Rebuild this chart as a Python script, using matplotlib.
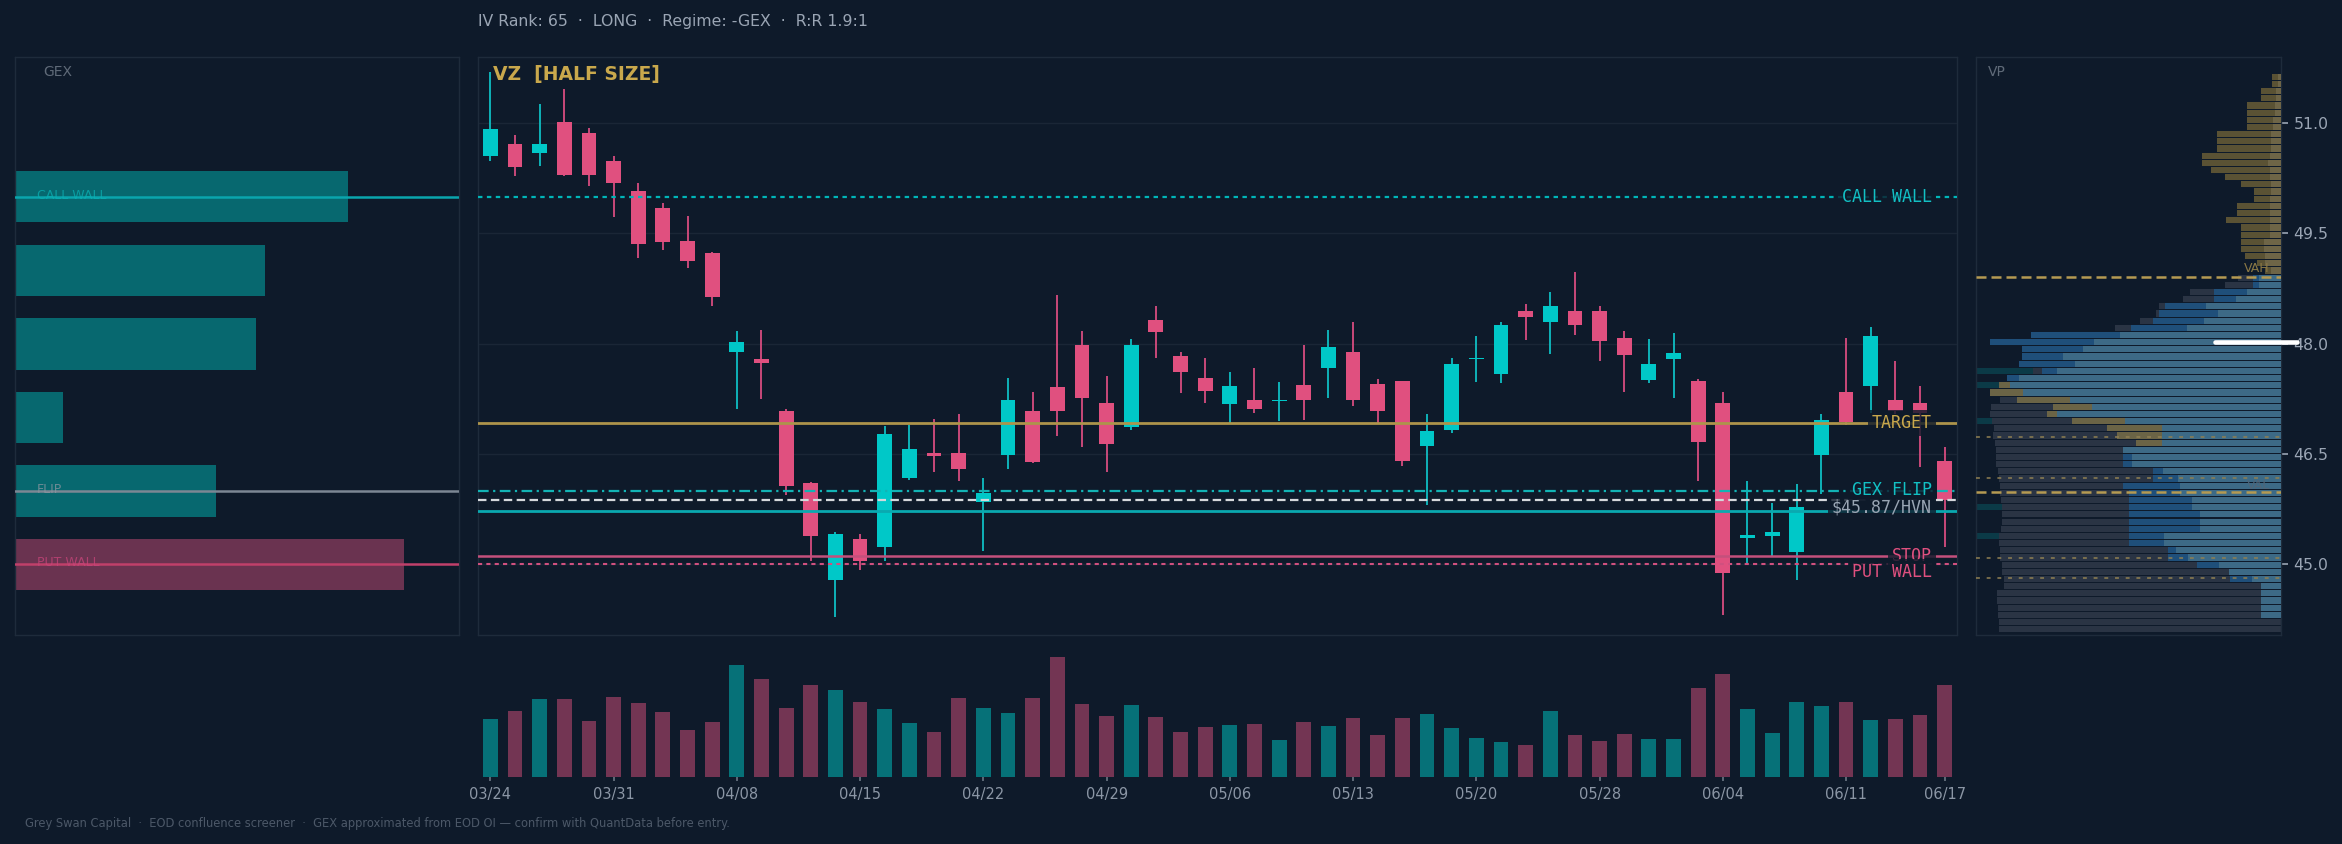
import numpy as np
import pandas as pd
import matplotlib
matplotlib.use('Agg')
import matplotlib.pyplot as plt
import matplotlib.transforms as mtransforms

BG = '#0e1a2a'
GRID = '#1a2636'
SPINE = '#1e2b3b'
CYAN = '#00c8c8'
PINK = '#e0507f'
GOLD = '#c9a84c'
MUTED = '#9aa5b4'

# ---- VZ daily bars (60 sessions) ----
dates = pd.bdate_range('2025-03-24', '2025-06-17').drop(pd.to_datetime(['2025-04-04', '2025-05-26']))
opens = [50.56, 50.72, 50.60, 51.01, 50.86, 50.49, 50.08, 49.84, 49.40, 49.24,
         47.89, 47.80, 47.08, 46.11, 44.79, 45.34, 45.24, 46.18, 46.51, 46.52,
         45.85, 46.49, 47.08, 47.41, 47.99, 47.19, 46.87, 48.33, 47.84, 47.54,
         47.18, 47.23, 47.22, 47.44, 47.67, 47.89, 47.46, 47.49, 46.61, 46.83,
         47.79, 47.59, 48.44, 48.29, 48.44, 48.45, 48.08, 47.51, 47.79, 47.50,
         47.19, 45.36, 45.39, 45.17, 46.49, 47.35, 47.43, 47.24, 47.19, 46.40]
highs = [51.69, 50.84, 51.26, 51.46, 50.94, 50.55, 50.18, 49.92, 49.74, 49.25,
         48.18, 48.19, 47.11, 46.12, 45.44, 45.41, 46.88, 46.90, 46.98, 47.04,
         46.17, 47.54, 47.35, 48.67, 48.18, 47.56, 48.07, 48.51, 47.89, 47.81,
         47.62, 47.67, 47.48, 47.98, 48.19, 48.29, 47.52, 47.50, 47.04, 47.81,
         48.11, 48.29, 48.54, 48.71, 48.97, 48.51, 48.18, 48.06, 48.15, 47.52,
         47.34, 46.13, 45.84, 46.10, 47.04, 48.08, 48.23, 47.76, 47.42, 46.59]
lows = [50.48, 50.28, 50.42, 50.28, 50.15, 49.73, 49.16, 49.27, 49.03, 48.52,
        47.11, 47.25, 45.94, 45.04, 44.28, 44.93, 45.04, 46.15, 46.26, 46.14,
        45.18, 46.30, 46.38, 46.74, 46.60, 46.26, 46.83, 47.81, 47.33, 47.19,
        46.92, 47.06, 46.95, 46.96, 47.26, 47.16, 46.92, 46.34, 45.81, 46.79,
        47.48, 47.47, 48.05, 47.86, 48.12, 47.77, 47.35, 47.47, 47.26, 46.14,
        44.31, 45.02, 45.10, 44.79, 45.96, 46.90, 47.06, 47.05, 46.32, 45.23]
closes = [50.92, 50.40, 50.72, 50.30, 50.30, 50.19, 49.36, 49.38, 49.12, 48.63,
          48.03, 47.74, 46.07, 45.39, 45.42, 45.05, 46.78, 46.57, 46.47, 46.30,
          45.97, 47.24, 46.39, 47.08, 47.26, 46.64, 47.99, 48.16, 47.62, 47.36,
          47.42, 47.11, 47.23, 47.23, 47.95, 47.23, 47.08, 46.41, 46.82, 47.73,
          47.81, 48.25, 48.37, 48.51, 48.26, 48.04, 47.85, 47.73, 47.88, 46.66,
          44.88, 45.40, 45.44, 45.78, 46.96, 46.93, 48.10, 47.08, 47.06, 45.87]
volume_m = [17.3, 19.7, 23.3, 23.3, 16.7, 23.9, 22.1, 19.4, 14.0, 16.4,
            33.5, 29.3, 20.6, 27.5, 26.0, 22.4, 20.3, 16.1, 13.4, 23.6,
            20.6, 19.1, 23.6, 35.9, 21.8, 18.2, 21.5, 17.9, 13.4, 14.9,
            15.5, 15.8, 11.0, 16.4, 15.2, 17.6, 12.5, 17.6, 18.8, 14.6,
            11.6, 10.4, 9.5, 19.7, 12.5, 10.7, 12.8, 11.3, 11.3, 26.6,
            30.8, 20.3, 13.1, 22.4, 21.2, 22.4, 17.0, 17.3, 18.5, 27.5]

# ---- key levels ----
call_wall = 50.0
target = 46.92
gex_flip = 46.0
hvn = 45.87
entry = 45.73
stop = 45.11
put_wall = 45.0

# ---- GEX by strike ($M, abs) ----
gex_strikes = [50.0, 49.0, 48.0, 47.0, 46.0, 45.0]
gex_values = [8.56, 6.43, 6.20, 1.23, 5.17, -10.0]

# ---- volume profile (78 bins, top -> bottom) ----
vp_top, vp_bottom = 51.68, 44.07
vp_upper_outer = [2.8, 2.8, 6.1, 6.1, 10.3, 10.3, 10.3, 10.3, 19.3, 19.3, 19.3, 23.8, 23.8, 21.1,
                  16.9, 12.1, 8.2, 8.2, 13.3, 13.3, 16.6, 12.1, 12.1, 12.1, 12.1, 10.9, 7.3, 4.9]
vp_upper_inner = [1.0, 1.0, 1.4, 1.4, 1.9, 1.9, 2.4, 2.4, 3.1, 3.1, 3.1, 3.4, 4.0, 3.4,
                  3.4, 3.1, 3.1, 3.4, 3.4, 3.4, 3.4, 3.4, 3.4, 5.2, 5.2, 4.9, 4.9, 3.0]
vp_lower_slate = [13.0, 16.9, 27.4, 29.5, 36.7, 37.6, 42.4, 49.9, 75.1, 87.4, 77.8, 77.8, 78.7, 74.5,
                  82.3, 84.7, 87.4, 84.4, 87.1, 87.4, 86.8, 86.2, 86.5, 85.9, 85.6, 85.6, 85.6, 85.0,
                  84.7, 84.4, 84.4, 84.1, 83.8, 83.8, 83.8, 84.1, 84.7, 84.7, 84.4, 84.4, 83.8, 83.8,
                  83.2, 83.2, 85.3, 85.3, 85.0, 85.0, 84.7, 84.7]
vp_lower_mid = [8.5, 8.5, 20.2, 20.2, 34.9, 36.7, 38.5, 45.1, 75.1, 87.4, 77.8, 77.8, 78.7, 71.8,
                82.3, 84.7, 87.4, 79.3, 68.5, 70.3, 62.8, 52.3, 49.3, 43.6, 47.5, 47.5, 47.5, 38.5,
                38.5, 47.5, 45.7, 45.7, 45.7, 45.7, 45.7, 45.7, 45.7, 45.7, 34.0, 34.0, 25.3, 15.7,
                15.4, 6.1, 0, 0, 0, 0, 0, 0]
vp_lower_steel = [6.7, 6.7, 10.3, 13.6, 22.6, 19.0, 23.2, 28.3, 48.4, 56.2, 59.5, 65.5, 61.9, 67.3,
                  78.7, 81.4, 77.5, 63.4, 56.8, 67.3, 46.9, 35.8, 35.8, 35.8, 47.3, 44.8, 44.8, 35.5,
                  31.0, 30.4, 30.4, 26.8, 26.8, 24.4, 24.4, 24.4, 35.2, 35.2, 31.6, 28.0, 18.7, 15.7,
                  8.8, 6.1, 6.1, 6.1, 6.1, 6.1, 0, 0]
vp_lower_kind = "bbbbbbbbbbbbbbbgggggggggbbbbbbbbbbbbbbbbbbbbbbbbbb"
vp_lower_teal = [13, 15, 20, 32, 36]
vah, val = 48.91, 45.98
vp_minor = [46.73, 46.17, 45.09, 44.81]
poc = 48.02

header = "IV Rank: 65  \u00b7  LONG  \u00b7  Regime: -GEX  \u00b7  R:R 1.9:1"
footer = ("Grey Swan Capital  \u00b7  EOD confluence screener  \u00b7  "
          "GEX approximated from EOD OI \u2014 confirm with QuantData before entry.")

# ---------------------------------------------------------------
W, H = 2342, 844
fig = plt.figure(figsize=(W / 100, H / 100), dpi=100, facecolor=BG)


def px_axes(x0, y0, x1, y1):
    return fig.add_axes([x0 / W, (H - y1) / H, (x1 - x0) / W, (y1 - y0) / H])


ax_gex = px_axes(15, 57, 459, 635)
ax = px_axes(478, 57, 1957, 635)
ax_vp = px_axes(1976, 57, 2281, 635)
ax_vol = px_axes(478, 645, 1957, 777)

ylim = (44.04, 51.90)
yticks = [45.0, 46.5, 48.0, 49.5, 51.0]
for a in (ax_gex, ax, ax_vp, ax_vol):
    a.set_facecolor(BG)
    for s in a.spines.values():
        s.set_color(SPINE)
        s.set_linewidth(1.0)

n = len(opens)
x = np.arange(n)
o, h, l, c = map(np.array, (opens, highs, lows, closes))
up = c >= o

# ---- main candles ----
ax.set_xlim(-0.5, n - 0.5)
ax.set_ylim(*ylim)
ax.set_yticks(yticks)
ax.tick_params(left=False, labelleft=False, bottom=False, labelbottom=False)
ax.set_xticks([])
for yv in yticks:
    ax.axhline(yv, color=GRID, lw=1.0, zorder=0)

wick_col = np.where(up, '#0fb3b8', '#c9497a')
body_col = np.where(up, CYAN, PINK)
ax.vlines(x, l, h, colors=wick_col, lw=1.4, zorder=2)
ax.bar(x, np.maximum(np.abs(c - o), 0.012), bottom=np.minimum(o, c), width=0.6,
       color=body_col, zorder=3, linewidth=0)

# ---- levels ----
ax.axhline(call_wall, color='#00b5b8', lw=1.6, ls=(0, (2, 2)), zorder=4)
ax.axhline(target, color='#ad944b', lw=2.0, zorder=4)
ax.axhline(gex_flip, color='#12b3b5', lw=1.6, ls=(0, (4.8, 2, 1, 2)), zorder=4)
ax.axhline(hvn, color='#d5d8dc', lw=1.6, ls=(0, (3.8, 2)), zorder=4)
ax.axhline(entry, color='#0aa9b0', lw=2.0, zorder=4)
ax.axhline(stop, color='#c4507c', lw=1.8, zorder=4)
ax.axhline(put_wall, color='#d0507f', lw=1.5, ls=(0, (2, 2)), zorder=4)

blend = mtransforms.blended_transform_factory(ax.transAxes, ax.transData)
box = dict(boxstyle='square,pad=0.25', facecolor=BG, edgecolor='none', alpha=0.8)
labels = [('CALL WALL', call_wall, '#12c0c4'),
          ('TARGET', target, '#c9a84c'),
          ('GEX FLIP', gex_flip + 0.01, '#12c0c4'),
          ('$%.2f/HVN' % hvn, hvn - 0.10, MUTED),
          ('STOP', stop + 0.01, '#e0507f'),
          ('PUT WALL', put_wall - 0.10, '#e0507f')]
for txt, yv, col in labels:
    ax.text(0.983, yv, txt, transform=blend, ha='right', va='center', color=col,
            fontsize=12, family='DejaVu Sans Mono', bbox=box, zorder=6)

ax.text(0.01, 0.969, 'VZ  [HALF SIZE]', transform=ax.transAxes, ha='left', va='center',
        color=GOLD, fontsize=13.5, fontweight='bold', zorder=7)

# ---- GEX panel ----
ax_gex.set_ylim(*ylim)
ax_gex.set_xlim(0, 11.41)
ax_gex.set_xticks([])
ax_gex.set_yticks([])
gex_col = ['#07686f' if v > 0 else '#6a3350' for v in gex_values]
ax_gex.barh(gex_strikes, np.abs(gex_values), height=0.7, color=gex_col, linewidth=0, zorder=2)
gblend = mtransforms.blended_transform_factory(ax_gex.transAxes, ax_gex.transData)
for txt, yv, col, tcol in [('CALL WALL', call_wall, '#0aa5ad', '#0ab0b3'),
                           ('FLIP', gex_flip, '#7c8794', '#8d96a0'),
                           ('PUT WALL', put_wall, '#c0406a', '#c8457a')]:
    ax_gex.axhline(yv, color=col, lw=1.8, zorder=3)
    ax_gex.text(0.05, yv + 0.02, txt, transform=gblend, ha='left', va='center',
                color=tcol, fontsize=9, alpha=0.75, zorder=4)
ax_gex.text(0.063, 0.974, 'GEX', transform=ax_gex.transAxes, ha='left', va='center',
            color='#5f6a78', fontsize=10)

# ---- volume profile ----
ax_vp.set_ylim(*ylim)
ax_vp.set_xlim(91.5, 0)
ax_vp.set_xticks([])
ax_vp.yaxis.tick_right()
ax_vp.set_yticks(yticks)
ax_vp.set_yticklabels(['%.1f' % v for v in yticks])
ax_vp.tick_params(axis='y', colors=MUTED, labelsize=11.3, length=5, width=1.2, pad=4)
for lab in ax_vp.get_yticklabels():
    lab.set_color(MUTED)

nb = len(vp_upper_outer) + len(vp_lower_slate)
step = (vp_top - vp_bottom) / nb
centers = vp_top - (np.arange(nb) + 0.5) * step
hb = step * 0.86
cu = centers[:len(vp_upper_outer)]
cl = centers[len(vp_upper_outer):]
ax_vp.barh(cu, vp_upper_outer, height=hb, color='#5a5234', linewidth=0, zorder=2)
ax_vp.barh(cu, vp_upper_inner, height=hb, color='#6e6547', linewidth=0, zorder=3)
ax_vp.barh(cl[vp_lower_teal], [91.5] * len(vp_lower_teal), height=hb, color='#0b3a47',
           linewidth=0, zorder=1)
ax_vp.barh(cl, vp_lower_slate, height=hb, color='#2a3444', linewidth=0, zorder=2)
mid_col = ['#1f4f7a' if k == 'b' else '#6b6446' for k in vp_lower_kind]
ax_vp.barh(cl, vp_lower_mid, height=hb, color=mid_col, linewidth=0, zorder=3)
ax_vp.barh(cl, vp_lower_steel, height=hb, color='#3d6a86', linewidth=0, zorder=4)

for yv in (vah, val):
    ax_vp.axhline(yv, color='#b59a52', lw=1.8, ls=(0, (4, 2)), zorder=5)
for yv in vp_minor:
    ax_vp.axhline(yv, color='#8f7f52', lw=1.4, ls=(0, (2, 3.5)), alpha=0.8, zorder=5)
vblend = mtransforms.blended_transform_factory(ax_vp.transAxes, ax_vp.transData)
ax_vp.text(0.964, vah + 0.11, 'VAH', transform=vblend, ha='right', va='center',
           color='#8a7845', fontsize=9, zorder=6)
ax_vp.text(0.964, val + 0.09, 'VAL', transform=vblend, ha='right', va='center',
           color='#4f6578', fontsize=9, zorder=6)
ax_vp.plot([0.784, 1.052], [poc, poc], transform=vblend, clip_on=False, color='white',
           lw=3.3, solid_capstyle='round', zorder=8)
ax_vp.text(0.039, 0.974, 'VP', transform=ax_vp.transAxes, ha='left', va='center',
           color='#5f6a78', fontsize=10)

# ---- volume ----
vol_col = np.where(up, '#067178', '#733553')
ax_vol.bar(x, volume_m, width=0.6, color=vol_col, linewidth=0)
ax_vol.set_xlim(-0.5, n - 0.5)
ax_vol.set_ylim(0, max(volume_m) * 1.1)
for s in ax_vol.spines.values():
    s.set_visible(False)
ax_vol.set_yticks([])
tick_idx = list(range(0, n, 5)) + [n - 1]
ax_vol.set_xticks(tick_idx)
ax_vol.set_xticklabels([dates[i].strftime('%m/%d') for i in tick_idx])
ax_vol.tick_params(axis='x', colors='#6b7684', labelcolor='#8b96a5', labelsize=10.5,
                   length=3, width=1.2, pad=4)

fig.text(478 / W, 1 - 21.7 / H, header, ha='left', va='center', color=MUTED, fontsize=11.3)
fig.text(25 / W, 1 - 823 / H, footer, ha='left', va='center', color='#4c5868', fontsize=8.3)

fig.savefig('out.png', dpi=100, facecolor=BG)
